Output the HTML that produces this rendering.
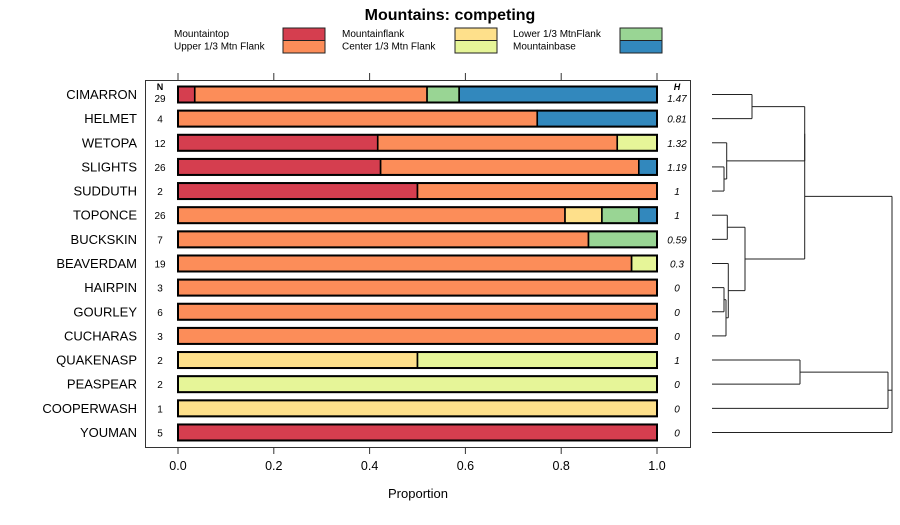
<!DOCTYPE html>
<html><head><meta charset="utf-8"><style>body{margin:0;background:#fff}svg{font-family:"Liberation Sans",sans-serif}</style></head>
<body>
<svg id="c" width="900" height="520"></svg>
<script>
const names=["CIMARRON","HELMET","WETOPA","SLIGHTS","SUDDUTH","TOPONCE","BUCKSKIN","BEAVERDAM","HAIRPIN","GOURLEY","CUCHARAS","QUAKENASP","PEASPEAR","COOPERWASH","YOUMAN"];
const nVals=[29,4,12,26,2,26,7,19,3,6,3,2,2,1,5];
const hVals=["1.47","0.81","1.32","1.19","1","1","0.59","0.3","0","0","0","1","0","0","0"];
const seriesNames=["Mountaintop","Upper 1/3 Mtn Flank","Mountainflank","Center 1/3 Mtn Flank","Lower 1/3 MtnFlank","Mountainbase"];
const colors=["#D53E4F","#FC8D59","#FEE08B","#E6F598","#99D594","#3288BD"];
const sTop=[0.035,0,0.417,0.423,0.5,0,0,0,0,0,0,0,0,0,1];
const sUpper=[0.485,0.75,0.5,0.539,0.5,0.808,0.857,0.947,1,1,1,0,0,0,0];
const sFlank=[0,0,0,0,0,0.077,0,0,0,0,0,0.5,0,1,0];
const sCenter=[0,0,0.083,0,0,0,0,0.053,0,0,0,0.5,1,0,0];
const sLower=[0.067,0,0,0,0,0.077,0.143,0,0,0,0,0,0,0,0];
const sBase=[0.413,0.25,0,0.038,0,0.038,0,0,0,0,0,0,0,0,0];
const ticks=[0,0.2,0.4,0.6,0.8,1.0];
const series=[sTop,sUpper,sFlank,sCenter,sLower,sBase];
const svg=document.getElementById('c');const NS="http://www.w3.org/2000/svg";
function mk(t,a,p){const e=document.createElementNS(NS,t);for(const k in a)e.setAttribute(k,a[k]);(p||svg).appendChild(e);return e;}
const X=v=>178+v*479, Y=i=>94.5+i*24.14;
let t=mk('text',{x:450,y:20,'text-anchor':'middle','font-size':16,'font-weight':'bold'});t.textContent="Mountains: competing";


const lx=[174,342,513], rx=[283,455,620];
seriesNames.forEach((s,k)=>{const c=Math.floor(k/2),r=k%2;
 const g=mk('g',{});
 
 
 const tt=mk('text',{x:lx[c],y:37+r*12.5,'font-size':10},g);tt.textContent=s;
 mk('rect',{x:rx[c],y:28+r*12.5,width:42,height:12.5,fill:colors[k],stroke:'#222','stroke-width':1},g);});
const box=mk('rect',{x:145.5,y:80.5,width:545,height:367,fill:'none',stroke:'#333'});


ticks.forEach(v=>{mk('line',{x1:X(v),x2:X(v),y1:73,y2:80,stroke:'#333'});mk('line',{x1:X(v),x2:X(v),y1:447,y2:454,stroke:'#333'});
 const l=mk('text',{x:X(v),y:470,'text-anchor':'middle','font-size':12.5});l.textContent=v.toFixed(1);
 
 });
t=mk('text',{x:418,y:498,'text-anchor':'middle','font-size':13});t.textContent="Proportion";


t=mk('text',{x:160,y:90,'text-anchor':'middle','font-size':9,'font-weight':'bold'});t.textContent="N";
t=mk('text',{x:677,y:90,'text-anchor':'middle','font-size':9,'font-weight':'bold','font-style':'italic'});t.textContent="H";
names.forEach((n,i)=>{const y=Y(i);
 let l=mk('text',{x:137,y:y+4.5,'text-anchor':'end','font-size':13});l.textContent=n;
 
 
 l=mk('text',{x:160,y:y+(i==0?7.5:4),'text-anchor':'middle','font-size':10});l.textContent=nVals[i];
 l=mk('text',{x:677,y:y+(i==0?7.5:4),'text-anchor':'middle','font-size':10,'font-style':'italic'});l.textContent=hVals[i];
 let acc=0;series.forEach((s,k)=>{const v=s[i];if(v>0){const r=mk('rect',{x:X(acc),y:y-8,width:X(acc+v)-X(acc),height:16,fill:colors[k],stroke:'#000','stroke-width':1.6});
  
  acc+=v;}});
 mk('rect',{x:X(0),y:y-8,width:X(1)-X(0),height:16,fill:'none',stroke:'#000','stroke-width':2});
});
// dendrogram
const L=712;
function seg(x1,y1,x2,y2){mk('line',{x1,y1,x2,y2,stroke:'#222','stroke-width':1});}
function join(ya,xa,yb,xb,h){seg(xa,ya,h,ya);seg(xb,yb,h,yb);seg(h,ya,h,yb);return (ya+yb)/2;}
const dA=join(Y(0),L,Y(1),L,752);
const dB=join(Y(3),L,Y(4),L,724);const dC=join(Y(2),L,dB,724,726.7);
const dAB=join(dA,752,dC,726.7,804.7);
const dD=join(Y(5),L,Y(6),L,727.3);
const dE=join(Y(8),L,Y(9),L,724);const dF=join(dE,724,Y(10),L,726);const dG=join(Y(7),L,dF,726,728.3);
const dDG=join(dD,727.3,dG,728.3,745);
const topNode=join(dAB,804.7,dDG,745,804.7);
const dQ=join(Y(11),L,Y(12),L,800);const dQ2=join(dQ,800,Y(13),L,888);
const botNode=join(dQ2,888,Y(14),L,892);
seg(804.7,topNode,892,topNode);seg(892,topNode,892,botNode);
</script>
</body></html>
